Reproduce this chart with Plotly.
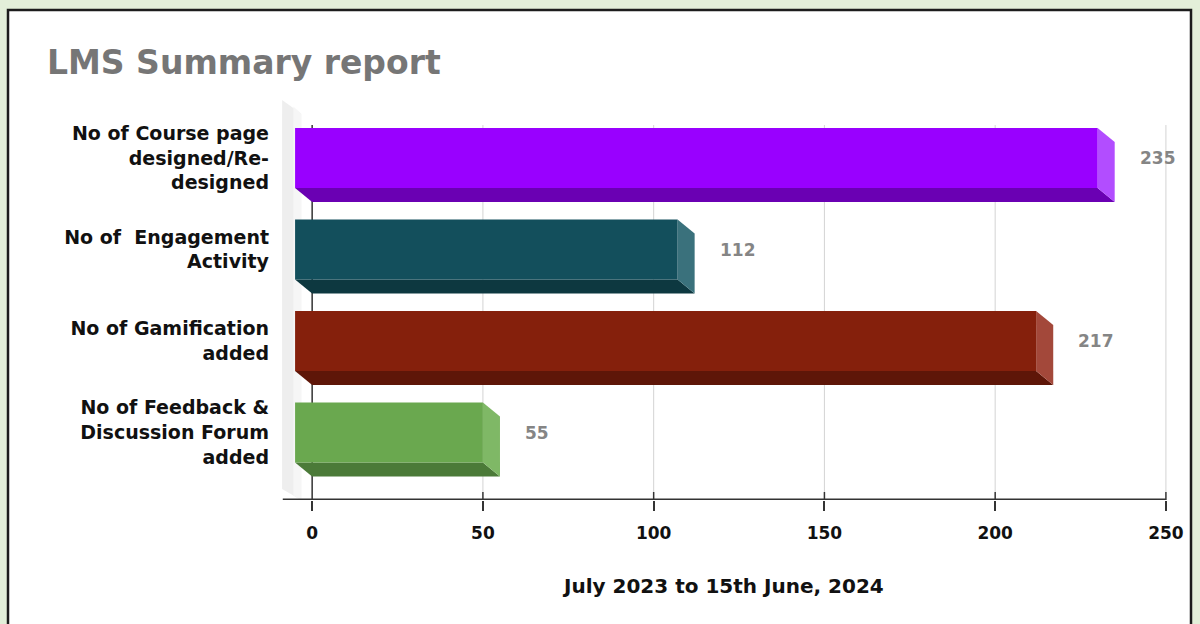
import plotly.graph_objects as go

# ---------------- data ----------------
categories = [
    "No of Course page<br>designed/Re-<br>designed",
    "No of\u00a0 Engagement<br>Activity",
    "No of Gamification<br>added",
    "No of Feedback &amp;<br>Discussion Forum<br>added",
]
values = [235, 112, 217, 55]
tick_vals = [0, 50, 100, 150, 200, 250]
tick_text = ["0", "50", "100", "150", "200", "250"]
title_text = "LMS Summary report"
x_title_text = "July 2023 to 15th June, 2024"

# ---------------- styles ----------------
front_colors = ["#9900ff", "#134f5c", "#85200c", "#6aa84f"]
side_colors = ["#b24dff", "#3a717c", "#a3483a", "#7fb866"]
bottom_colors = ["#6a00b3", "#0d3840", "#5e1608", "#4b7a38"]

FONT = "DejaVu Sans"
DX = 5.0      # 3D depth in x units
DY = 0.153    # 3D depth in y units
H = 0.328     # half height of front face
Y_TOP = -0.6339
Y_BOT = 3.7377

fig = go.Figure()

# left 3D wall
fig.add_trace(go.Scatter(
    x=[-8.8, -3.2, -3.2, -8.8, -8.8], y=[Y_TOP, Y_TOP + 0.15, Y_BOT, Y_BOT - 0.12, Y_TOP],
    fill="toself", fillcolor="#eeeeee", line=dict(width=0), mode="lines",
    hoverinfo="skip", showlegend=False))
fig.add_trace(go.Scatter(
    x=[-5.5, -3.2, -3.2, -5.5, -5.5], y=[Y_TOP + 0.07, Y_TOP + 0.15, Y_BOT, Y_BOT - 0.05, Y_TOP + 0.07],
    fill="toself", fillcolor="#f6f6f6", line=dict(width=0), mode="lines",
    hoverinfo="skip", showlegend=False))

for i, v in enumerate(values):
    # bottom face
    fig.add_trace(go.Scatter(
        x=[-DX, v - DX, v, 0, -DX],
        y=[i + H, i + H, i + H + DY, i + H + DY, i + H],
        fill="toself", fillcolor=bottom_colors[i], line=dict(width=0), mode="lines",
        hoverinfo="skip", showlegend=False))
    # side face
    fig.add_trace(go.Scatter(
        x=[v - DX, v, v, v - DX, v - DX],
        y=[i - H, i - H + DY, i + H + DY, i + H, i - H],
        fill="toself", fillcolor=side_colors[i], line=dict(width=0), mode="lines",
        hoverinfo="skip", showlegend=False))
    # front face
    fig.add_trace(go.Scatter(
        x=[-DX, v - DX, v - DX, -DX, -DX],
        y=[i - H, i - H, i + H, i + H, i - H],
        fill="toself", fillcolor=front_colors[i], line=dict(width=0), mode="lines",
        hoverinfo="skip", showlegend=False))

shapes = []
# white panel with dark border on light green page
shapes.append(dict(type="rect", xref="paper", yref="paper",
                   x0=(8 - 278) / 905, x1=(1191 - 278) / 905,
                   y0=(500 - 640) / 400, y1=(500 - 10) / 400,
                   fillcolor="white", line=dict(color="#1c1c1c", width=2.5), layer="below"))
# gridlines
for t in tick_vals[1:]:
    shapes.append(dict(type="line", xref="x", yref="y", x0=t, x1=t, y0=-0.36, y1=3.65,
                       line=dict(color="#d3d3d3", width=1), layer="below"))
    shapes.append(dict(type="line", xref="x", yref="y", x0=t, x1=t, y0=3.65, y1=Y_BOT,
                       line=dict(color="#333333", width=1.5), layer="above"))
# zero line
shapes.append(dict(type="line", xref="x", yref="y", x0=0, x1=0, y0=-0.36, y1=Y_BOT,
                   line=dict(color="#333333", width=1.5), layer="below"))
# x axis baseline (ends at the last tick)
shapes.append(dict(type="line", xref="x", yref="y", x0=-8.6, x1=tick_vals[-1], y0=Y_BOT - 0.008,
                   y1=Y_BOT - 0.008, line=dict(color="#333333", width=1.5), layer="above"))

annotations = []
for i, v in enumerate(values):
    annotations.append(dict(x=v + 6.7, y=i, xref="x", yref="y", text=str(v),
                            showarrow=False, xanchor="left", yanchor="middle",
                            font=dict(family=FONT, size=17, color="#858585", weight="bold")))
annotations.append(dict(x=(45 - 278) / 905, y=(500 - 63) / 400, xref="paper", yref="paper",
                        text=title_text, showarrow=False, xanchor="left", yanchor="middle",
                        font=dict(family=FONT, size=33, color="#767676", weight="bold")))
annotations.append(dict(x=(723 - 278) / 905, y=(500 - 586) / 400, xref="paper", yref="paper",
                        text=x_title_text, showarrow=False, xanchor="center", yanchor="middle",
                        font=dict(family=FONT, size=20, color="#111111", weight="bold")))

fig.update_layout(
    width=1200, height=624,
    margin=dict(l=278, r=17, t=100, b=124),
    paper_bgcolor="#e3efd9",
    plot_bgcolor="rgba(0,0,0,0)",
    shapes=shapes,
    annotations=annotations,
    showlegend=False,
    hovermode=False,
    xaxis=dict(range=[-10, 255], tickvals=tick_vals, ticktext=tick_text,
               showgrid=False, zeroline=False, showline=False,
               ticks="outside", ticklen=10, tickwidth=1.5, tickcolor="#333333",
               ticklabelstandoff=8,
               tickfont=dict(family=FONT, size=17, color="#111111", weight="bold")),
    yaxis=dict(range=[Y_BOT, Y_TOP], tickvals=list(range(len(categories))), ticktext=categories,
               showgrid=False, zeroline=False, showline=False, ticks="",
               ticklabelstandoff=8,
               tickfont=dict(family=FONT, size=19, color="#111111", weight="bold")),
)

fig.write_html(
    "out.html",
    config={"displayModeBar": False},
    post_script="document.body.style.margin='0';document.body.style.overflow='hidden';",
)
